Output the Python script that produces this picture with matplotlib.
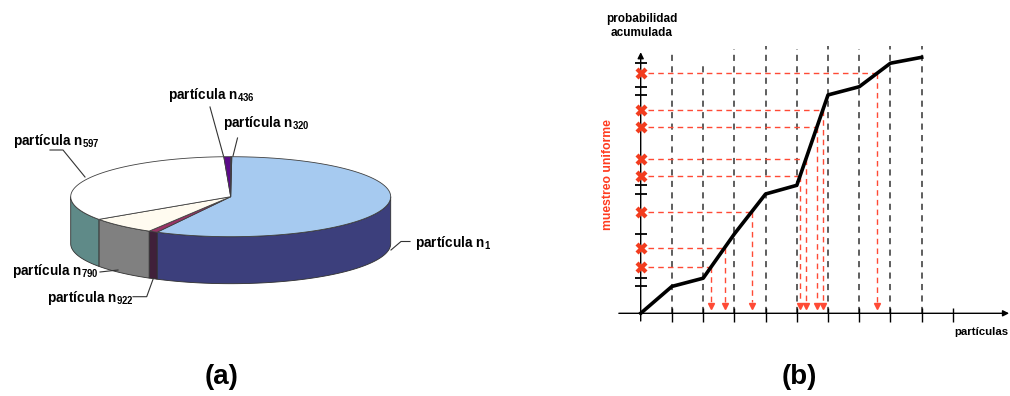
import numpy as np
import matplotlib
matplotlib.use('Agg')
import matplotlib.pyplot as plt
from matplotlib.patches import Polygon

plt.rcParams['font.family'] = ['Liberation Sans', 'DejaVu Sans']
plt.rcParams['font.weight'] = 'bold'
plt.rcParams['mathtext.fontset'] = 'custom'
plt.rcParams['mathtext.rm'] = 'Liberation Sans:bold'
plt.rcParams['mathtext.it'] = 'Liberation Sans:bold'
plt.rcParams['mathtext.bf'] = 'Liberation Sans:bold'


#%% Data

# (a) particle weights, clockwise from the top of the pie
subscripts = ['1', '922', '790', '597', '436', '320']
shares = [57.5, 0.9, 6.9, 33.9, 0.7, 0.1]
top_colors = ['#a6caf0', '#993366', '#fffbf0', '#ffffff', '#5c0a8a', '#3d1552']
side_colors = ['#3c3f7c', '#40203a', '#808080', '#5f8a88', '#3a0858', '#2a0e3a']

# (b) cumulative probability over the particles
particle_idx = [0, 1, 2, 3, 4, 5, 6, 7, 8, 9]
cum_prob = [0.0, 0.105, 0.137, 0.31, 0.466, 0.50, 0.853, 0.885, 0.977, 1.0]
uniform_samples = [0.18, 0.256, 0.397, 0.536, 0.602, 0.729, 0.794, 0.9375]
grid_tops = [1.013, 0.987, 1.032, 1.044, 1.032, 1.044, 1.032, 1.044, 1.044]


fig = plt.figure(figsize=(10.1, 3.96), dpi=100)

#%% (a) 3D pie, drawn on a pixel canvas

ax0 = fig.add_axes([0, 0, 1, 1])
ax0.set_xlim(0, 1010)
ax0.set_ylim(396, 0)
ax0.axis('off')

cx, cy, ra, rb, depth = 230.7, 196.7, 160, 40, 47
start = 89.6
bounds = start - 3.6 * np.concatenate([[0], np.cumsum(shares)])


def arc(t0, t1, n=80):
    t = np.radians(np.linspace(t0, t1, n))
    return cx + ra * np.cos(t), cy - rb * np.sin(t)


# side walls (front half only)
for i in range(len(shares)):
    hi, lo = bounds[i], bounds[i + 1]
    a, b = max(lo, -180), min(hi, 0)
    if a >= b:
        continue
    x, y = arc(b, a)
    pts = np.column_stack([np.concatenate([x, x[::-1]]),
                           np.concatenate([y, y[::-1] + depth])])
    ax0.add_patch(Polygon(pts, closed=True, fc=side_colors[i],
                          ec='#303030', lw=0.6))

# top faces
for i in range(len(shares)):
    x, y = arc(bounds[i], bounds[i + 1])
    pts = np.column_stack([np.concatenate([[cx], x]),
                           np.concatenate([[cy], y])])
    ax0.add_patch(Polygon(pts, closed=True, fc=top_colors[i],
                          ec='#404040', lw=0.6))

# labels and leader lines
label_pos = {'1': (415, 246.7), '922': (46.7, 301.7), '790': (11.7, 275),
             '597': (13.3, 145), '436': (168.3, 99.3), '320': (222.7, 126.7)}
leaders = {'1': [(410, 241.5), (401, 241.5), (391, 250)],
           '922': [(133, 296.7), (146.7, 296.7), (153.3, 278.5)],
           '790': [(100, 272), (118, 270)],
           '597': [(50, 150), (63, 150), (85, 177)],
           '436': [(210, 107), (223.5, 156)],
           '320': [(237.5, 138), (233, 156)]}
for s in subscripts:
    tx, ty = label_pos[s]
    ax0.text(tx, ty, 'partícula n$_{%s}$' % s, fontsize=9.8,
             fontweight='bold', ha='left', va='baseline')
    lx, ly = zip(*leaders[s])
    ax0.plot(lx, ly, color='#333333', lw=0.8)

ax0.text(222, 377, '(a)', fontsize=20, fontweight='bold',
         ha='center', va='center')
ax0.text(799, 377, '(b)', fontsize=20, fontweight='bold',
         ha='center', va='center')

#%% (b) inverse-CDF sampling

px0, sx, py0, sy = 640.7, 31.22, 313.3, 256.0
ax1 = fig.add_axes([600 / 1010, 56 / 396, 410 / 1010, 340 / 396])
ax1.set_xlim((600 - px0) / sx, (1010 - px0) / sx)
ax1.set_ylim((py0 - 340) / sy, py0 / sy)
ax1.axis('off')
ax1.patch.set_alpha(0)

# dashed particle boundaries
for xi, top in zip(particle_idx[1:], grid_tops):
    ax1.plot([xi, xi], [0, top], color='#333333', lw=1.1,
             ls=(0, (4, 3.5)))
ax1.vlines(range(1, 11), -0.033, 0.02, color='black', lw=1)

# axes with arrows
ax1.annotate('', xy=(11.8, 0), xytext=(-0.7, 0),
             arrowprops=dict(arrowstyle='-|>', color='black', lw=1,
                             mutation_scale=9, shrinkA=0, shrinkB=0))
ax1.annotate('', xy=(0, 1.02), xytext=(0, -0.03),
             arrowprops=dict(arrowstyle='-|>', color='black', lw=1,
                             mutation_scale=9, shrinkA=0, shrinkB=0))
ax1.plot(np.zeros(8), cum_prob[1:9], marker='_', ms=8, mew=1.3,
         ls='none', color='black')

# uniform samples mapped through the inverse cdf
crossing = np.interp(uniform_samples, cum_prob, particle_idx)
red = '#ff4a35'
for u, c in zip(uniform_samples, crossing):
    ax1.plot([0.22, c], [u, u], color=red, lw=1, ls=(0, (4, 3)))
    ax1.plot([c, c], [u, 0.045], color=red, lw=1, ls=(0, (4, 3)))
ax1.plot(crossing, np.full(len(crossing), 0.028), marker='v', ms=5,
         color=red, ls='none')

ax1.plot(particle_idx, cum_prob, color='black', lw=2.6, zorder=4)
ax1.plot(np.zeros(len(uniform_samples)), uniform_samples, marker='X',
         ms=9, color='#f23c1e', mec='none', ls='none', zorder=5)

ax1.text(0.03, (py0 - 26) / sy, 'probabilidad\nacumulada', fontsize=8.5,
         fontweight='bold', ha='center', va='center', linespacing=1.25)
ax1.text((608 - px0) / sx, (py0 - 175) / sy, 'muestreo uniforme',
         fontsize=8.8, fontweight='bold', color='#ff3b1f', rotation=90,
         ha='center', va='center')
ax1.text((1008 - px0) / sx, (py0 - 331.7) / sy, 'partículas',
         fontsize=8.2, fontweight='bold', ha='right', va='center')

fig.savefig('out.png', dpi=100)
